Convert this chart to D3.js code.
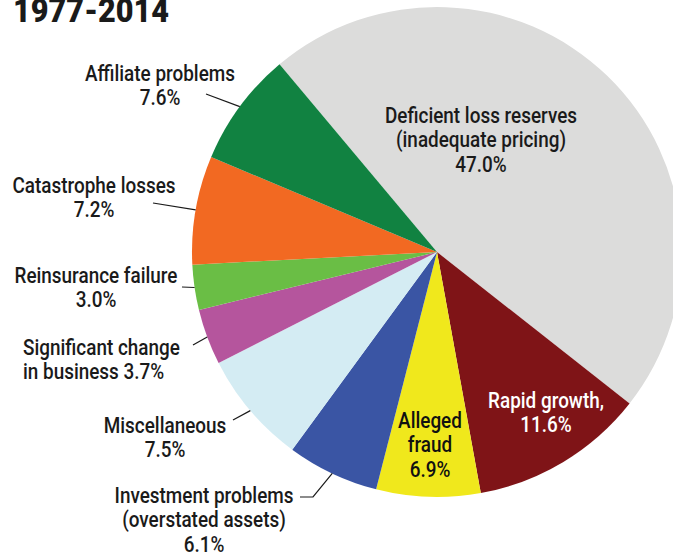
<!DOCTYPE html>
<html>
<head>
<meta charset="utf-8">
<script src="https://cdn.jsdelivr.net/npm/d3@7"></script>
<style>
  html, body { margin: 0; padding: 0; background: #ffffff; }
  svg { display: block; }
  text { font-family: Roboto, "Liberation Sans", sans-serif; }
</style>
</head>
<body>
<script>
// ---- data ----
const categories = [
  "Deficient loss reserves (inadequate pricing)",
  "Rapid growth",
  "Alleged fraud",
  "Investment problems (overstated assets)",
  "Miscellaneous",
  "Significant change in business",
  "Reinsurance failure",
  "Catastrophe losses",
  "Affiliate problems"
];
const values = [47.0, 11.6, 6.9, 6.1, 7.5, 3.7, 3.0, 7.2, 7.6];
const colors = ["#dcdcdb", "#7f1417", "#f0e81c", "#3a55a4", "#d4ecf3", "#b5559d", "#6abe45", "#f26922", "#118241"];
const labelLines = [
  ["Deficient loss reserves", "(inadequate pricing)", "47.0%"],
  ["Rapid growth,", "11.6%"],
  ["Alleged", "fraud", "6.9%"],
  ["Investment problems", "(overstated assets)", "6.1%"],
  ["Miscellaneous", "7.5%"],
  ["Significant change", "in business 3.7%"],
  ["Reinsurance failure", "3.0%"],
  ["Catastrophe losses", "7.2%"],
  ["Affiliate problems", "7.6%"]
];
const title = "1977-2014";

// ---- layout ----
const W = 673, H = 556;
const cx = 437, cy = 252, R = 245;
const startDeg = -40;
const fontSize = 22, squeeze = 0.86, lineGap = 24.5;
// label anchor (x, first baseline y, anchor, text colour) and leader elbow points
const labelLayout = [
  {x: 481, y: 123, anchor: "middle", fill: "#1a1a1a"},
  {x: 546, y: 408, anchor: "middle", fill: "#ffffff"},
  {x: 430, y: 428, anchor: "middle", fill: "#111111"},
  {x: 204, y: 503, anchor: "middle", fill: "#1a1a1a", leader: [[300, 497], [313, 497]]},
  {x: 165, y: 433, anchor: "middle", fill: "#1a1a1a", leader: [[233, 420]]},
  {x: 23,  y: 355, anchor: "start",  fill: "#1a1a1a", leader: [[193, 345]]},
  {x: 96,  y: 283, anchor: "middle", fill: "#1a1a1a", leader: [[182, 287]]},
  {x: 94,  y: 193, anchor: "middle", fill: "#1a1a1a", leader: [[153, 203]]},
  {x: 160, y: 81,  anchor: "middle", fill: "#1a1a1a", leader: [[206, 94]]}
];

const svg = d3.select("body").append("svg").attr("width", W).attr("height", H);

const a0 = startDeg * Math.PI / 180;
const pie = d3.pie().sort(null).startAngle(a0).endAngle(a0 + 2 * Math.PI);
const arcs = pie(values);
const arc = d3.arc().innerRadius(0).outerRadius(R);

const g = svg.append("g").attr("transform", `translate(${cx},${cy})`);
g.selectAll("path.slice").data(arcs).join("path")
  .attr("class", "slice")
  .attr("d", arc)
  .attr("fill", (d, i) => colors[i]);

// leader lines
arcs.forEach((d, i) => {
  const L = labelLayout[i];
  if (!L.leader) return;
  const mid = (d.startAngle + d.endAngle) / 2;
  const edge = [cx + R * Math.sin(mid), cy - R * Math.cos(mid)];
  const pts = [...L.leader, edge];
  svg.append("path")
    .attr("d", d3.line()(pts))
    .attr("fill", "none")
    .attr("stroke", "#1a1a1a")
    .attr("stroke-width", 1.2);
});

// labels
labelLines.forEach((lines, i) => {
  const L = labelLayout[i];
  const lg = svg.append("g").attr("transform", `translate(${L.x},${L.y}) scale(${squeeze},1)`);
  lines.forEach((t, k) => {
    lg.append("text")
      .attr("x", 0).attr("y", k * lineGap)
      .attr("text-anchor", L.anchor)
      .attr("font-size", fontSize)
      .attr("font-weight", 500)
      .attr("fill", L.fill)
      .text(t);
  });
});

// title
svg.append("g").attr("transform", `translate(13,22) scale(0.93,1)`)
  .append("text")
  .attr("x", 0).attr("y", 0)
  .attr("font-size", 33)
  .attr("font-weight", 900)
  .attr("fill", "#1a1a1a")
  .text(title);
</script>
</body>
</html>
